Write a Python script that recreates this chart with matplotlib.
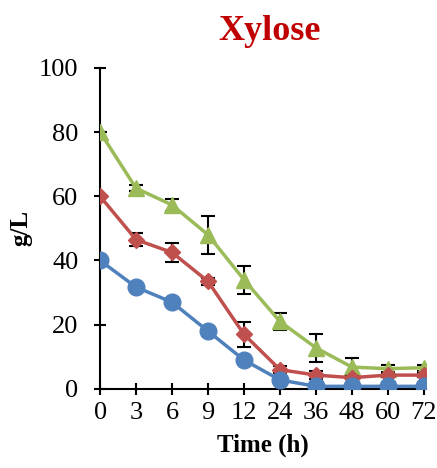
import numpy as np
import matplotlib.pyplot as plt

plt.rcParams['font.family'] = ['Liberation Serif', 'DejaVu Serif']

# Datos
tiempos = ['0', '3', '6', '9', '12', '24', '36', '48', '60', '72']

azul = [40, 31.7, 27, 18, 9, 2.8, 0.8, 0.8, 0.8, 0.8]
azul_err = [0, 0, 0, 0, 0, 0, 0, 0, 0, 0]

rojo = [60, 46.5, 42.5, 33.5, 17, 6, 4.3, 3.5, 4.3, 4.3]
rojo_err = [0, 2, 3, 1, 3.8, 1, 1.3, 0.5, 0.5, 0.5]

verde = [80, 62.5, 57.3, 48, 34, 21, 12.8, 6.8, 6.3, 6.6]
verde_err = [0, 1, 2, 6, 4.3, 2.5, 4.3, 2.8, 1, 1]

x = np.arange(len(tiempos))

fig = plt.figure(figsize=(4.37, 4.68), dpi=100)
ax = fig.add_axes([0.229, 0.169, 0.745, 0.686])

ax.errorbar(x, verde, yerr=verde_err, color='#9BBB59', marker='^', markersize=11,
            linewidth=2.5, ecolor='black', elinewidth=1.5, capsize=5, capthick=1.5, zorder=3)
ax.errorbar(x, rojo, yerr=rojo_err, color='#C0504D', marker='D', markersize=8,
            linewidth=2.5, ecolor='black', elinewidth=1.5, capsize=5, capthick=1.5, zorder=4)
ax.errorbar(x, azul, yerr=azul_err, color='#4F81BD', marker='o', markersize=12,
            linewidth=2.5, ecolor='black', elinewidth=1.5, capsize=5, capthick=1.5, zorder=5)

ax.set_xlim(0, 9.05)
ax.set_ylim(0, 100)
ax.set_xticks(x)
ax.set_xticklabels(tiempos)
ax.set_yticks([0, 20, 40, 60, 80, 100])

for lado in ['top', 'right']:
    ax.spines[lado].set_visible(False)
for lado in ['left', 'bottom']:
    ax.spines[lado].set_linewidth(1.5)
    ax.spines[lado].set_color('black')

ax.tick_params(direction='inout', length=9, width=1.5, labelsize=19)
ax.tick_params(axis='x', pad=5)
ax.tick_params(axis='y', pad=11)
for lbl in ax.get_xticklabels() + ax.get_yticklabels():
    lbl.set_clip_on(False)

ax.set_xlabel('Time (h)', fontsize=18, fontweight='bold', labelpad=7)
ax.set_ylabel('g/L', fontsize=18, fontweight='bold', labelpad=5)

fig.text(0.616, 0.932, 'Xylose', ha='center', va='center', fontsize=26,
         fontweight='bold', color='#C00000')

fig.savefig('out.png', dpi=100)
